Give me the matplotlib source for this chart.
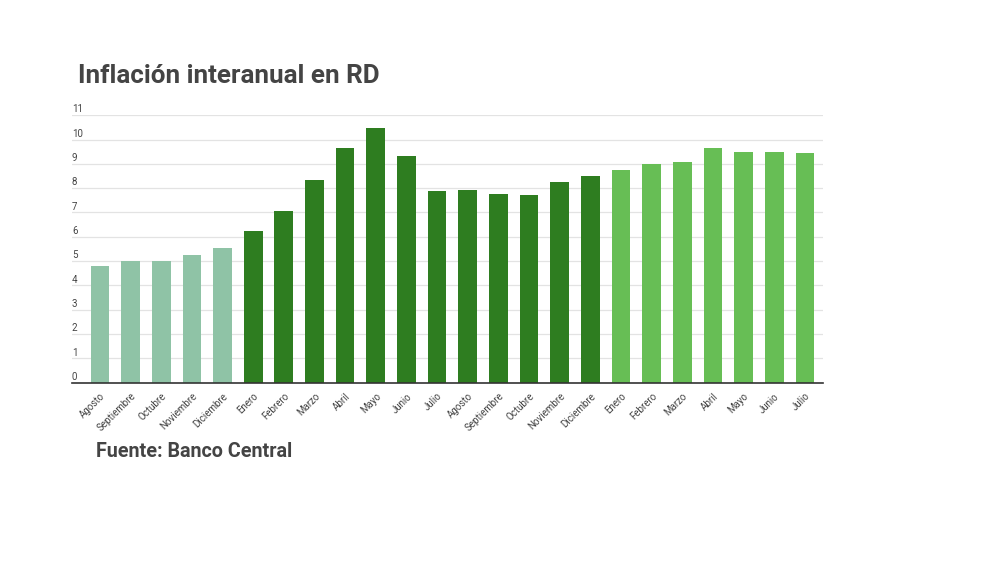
import matplotlib
matplotlib.use("Agg")
import matplotlib.pyplot as plt
from matplotlib.transforms import blended_transform_factory

plt.rcParams["font.family"] = ["Roboto", "DejaVu Sans"]

MONTHS = [
    "Agosto", "Septiembre", "Octubre", "Noviembre", "Diciembre",
    "Enero", "Febrero", "Marzo", "Abril", "Mayo", "Junio", "Julio",
    "Agosto", "Septiembre", "Octubre", "Noviembre", "Diciembre",
    "Enero", "Febrero", "Marzo", "Abril", "Mayo", "Junio", "Julio",
]
INFLATION = [
    4.81, 5.02, 5.02, 5.27, 5.55,
    6.24, 7.08, 8.32, 9.66, 10.48, 9.33, 7.89,
    7.91, 7.74, 7.70, 8.24, 8.52,
    8.73, 8.99, 9.06, 9.64, 9.48, 9.50, 9.44,
]
# year group of each bar: 2020, 2021, 2022
GROUP = [0] * 5 + [1] * 12 + [2] * 7
GROUP_COLORS = ["#8fc3a6", "#2e7d20", "#67be55"]
Y_TICKS = list(range(0, 12))

TEXT = "#444444"

fig = plt.figure(figsize=(10, 5.62), dpi=100)
ax = fig.add_axes([0.072, 0.319, 0.751, 0.476])

x = list(range(len(INFLATION)))
colors = [GROUP_COLORS[g] for g in GROUP]
ax.bar(x, INFLATION, width=0.61, color=colors, zorder=2)

ax.set_xlim(-0.91, len(INFLATION) - 1 + 0.59)
ax.set_ylim(0, 11)

ax.set_yticks(Y_TICKS)
ax.set_yticklabels([])
ax.tick_params(axis="y", length=0)
ax.grid(axis="y", color="#e3e3e3", linewidth=0.9, zorder=0)
# labels sit just above their gridline, at the left edge
trans = blended_transform_factory(ax.transAxes, ax.transData)
for t in Y_TICKS:
    ax.text(0.0, t + 0.03, f"{t}", transform=trans, ha="left", va="bottom",
            fontsize=7, color=TEXT)

ax.set_xticks(x)
ax.set_xticklabels(MONTHS, rotation=45, ha="right", rotation_mode="anchor",
                   fontsize=7, color=TEXT)
ax.tick_params(axis="x", length=0, pad=6)

for side in ["top", "right", "left"]:
    ax.spines[side].set_visible(False)
ax.spines["bottom"].set_color("#333333")
ax.spines["bottom"].set_linewidth(1.2)
ax.spines["bottom"].set_zorder(3)

fig.text(0.078, 0.864, "Inflación interanual en RD", fontsize=18.7,
         fontweight="bold", color=TEXT, ha="left", va="center")
fig.text(0.096, 0.197, "Fuente: Banco Central", fontsize=14.2,
         fontweight="bold", color=TEXT, ha="left", va="center")

fig.savefig("out.png", dpi=100)
